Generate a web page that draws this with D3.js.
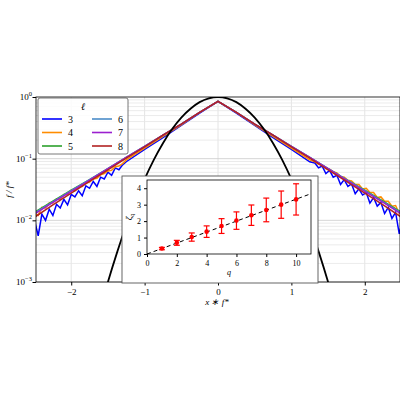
<!DOCTYPE html>
<html><head><meta charset="utf-8">
<script src="https://cdn.jsdelivr.net/npm/d3@7"></script>
<style>body{margin:0;background:#fff}text{font-family:"Liberation Serif",serif;fill:#000}</style>
</head><body><svg id="c" width="400" height="400"></svg>
<script>
// |x| grid for the exponential-like curves (mirrored to negative side)
var absX = [0,0.25,0.5,0.75,1,1.25,1.5,1.75,2,2.25,2.5];
var ells = [3,4,5,6,7,8];
var colors = ["#0000ff","#ff8c00","#2ca02c","#4c8cc8","#9b1fcf","#b22222"];
// log10(f/f*) per ell
var logF = {
  3: [-0.07,-0.26,-0.46,-0.66,-0.85,-1.05,-1.26,-1.50,-1.72,-1.95,-2.25],
  4: [-0.07,-0.25,-0.45,-0.64,-0.83,-1.02,-1.21,-1.42,-1.62,-1.82,-2.02],
  5: [-0.07,-0.25,-0.44,-0.62,-0.80,-0.98,-1.16,-1.34,-1.51,-1.69,-1.87],
  6: [-0.07,-0.25,-0.44,-0.62,-0.80,-0.98,-1.16,-1.34,-1.52,-1.70,-1.88],
  7: [-0.07,-0.25,-0.44,-0.62,-0.80,-0.98,-1.16,-1.35,-1.53,-1.71,-1.90],
  8: [-0.07,-0.25,-0.44,-0.62,-0.81,-0.99,-1.18,-1.37,-1.56,-1.75,-1.95]
};
// jagged samples for the noisy low-ell tails
var noiseX = [1.30,1.35,1.40,1.45,1.50,1.55,1.60,1.65,1.70,1.75,1.80,1.85,1.90,1.95,2.00,2.05,2.10,2.15,2.20,2.25,2.30,2.35,2.40,2.45,2.50];
var noise3 = [-1.10,-1.18,-1.15,-1.27,-1.22,-1.33,-1.30,-1.45,-1.37,-1.48,-1.44,-1.60,-1.52,-1.62,-1.58,-1.75,-1.66,-1.80,-1.74,-1.92,-1.82,-2.00,-1.90,-2.25,-2.00];
var noise4 = [-1.08,-1.12,-1.13,-1.19,-1.20,-1.24,-1.26,-1.32,-1.33,-1.38,-1.39,-1.45,-1.45,-1.52,-1.51,-1.58,-1.58,-1.66,-1.65,-1.72,-1.72,-1.80,-1.79,-1.92,-1.88];
// Gaussian reference
var gaussX = [0,0.125,0.25,0.375,0.5,0.625,0.75,0.875,1,1.125,1.25,1.375,1.5,1.625];
var gaussLog = [0,-0.021,-0.083,-0.19,-0.333,-0.52,-0.75,-1.02,-1.333,-1.69,-2.08,-2.52,-3.0,-3.52];
// inset: structure function exponents
var qs = [1,2,3,4,5,6,7,8,9,10];
var zeta = [0.33,0.68,1.03,1.36,1.70,2.03,2.36,2.68,3.00,3.32];
var zetaErr = [0.07,0.15,0.25,0.35,0.45,0.53,0.62,0.72,0.83,0.95];
var xTicks = [-2,-1,0,1,2];

var svg = d3.select("#c");
var L=36,R=400,T=97,B=282;
var x = d3.scaleLinear().domain([-2.48,2.48]).range([L,R]);
var y = d3.scaleLog().domain([1e-3,1]).range([B,T]);
svg.append("defs").append("clipPath").attr("id","cp").append("rect").attr("x",L).attr("y",T).attr("width",R-L).attr("height",B-T);
var g = svg.append("g");
// grid
xTicks.forEach(function(t){g.append("line").attr("x1",x(t)).attr("x2",x(t)).attr("y1",T).attr("y2",B).attr("stroke","#ddd").attr("stroke-width",0.8);});
[1e-3,1e-2,1e-1].forEach(function(d){for(var k=1;k<10;k++){var v=d*k;g.append("line").attr("x1",L).attr("x2",R).attr("y1",y(v)).attr("y2",y(v)).attr("stroke",k==1?"#ccc":"#e6e6e6").attr("stroke-width",0.8);}});

var line = d3.line().x(function(d){return x(d[0]);}).y(function(d){return y(Math.pow(10,d[1]));});
var plot = g.append("g").attr("clip-path","url(#cp)");
function sym(xs,ys){var pts=[];for(var i=xs.length-1;i>0;i--)pts.push([-xs[i],ys[i]]);for(i=0;i<xs.length;i++)pts.push([xs[i],ys[i]]);return pts;}
function tail(xs,ys){var pts=[];for(var i=xs.length-1;i>=0;i--)pts.push([-xs[i],ys[i]]);return pts;}
ells.forEach(function(l,i){
  var pts = sym(absX,logF[l]);
  if(l==3||l==4){
    var nz = l==3?noise3:noise4;
    var left = tail(noiseX,nz), right = noiseX.map(function(v,j){return [v+0.02,nz[j]+0.03];});
    pts = left.concat(pts.filter(function(p){return Math.abs(p[0])<1.3;})).concat(right);
  }
  plot.append("path").attr("d",line(pts)).attr("fill","none").attr("stroke",colors[i]).attr("stroke-width",1.5);
});
plot.append("path").attr("d",line.curve(d3.curveMonotoneX)(sym(gaussX,gaussLog))).attr("fill","none").attr("stroke","#000").attr("stroke-width",1.8);

// axes
g.append("rect").attr("x",L).attr("y",T).attr("width",R-L).attr("height",B-T).attr("fill","none").attr("stroke","#000").attr("stroke-width",0.8);
var xa = g.append("g").attr("transform","translate(0,"+B+")").call(d3.axisBottom(x).tickValues(xTicks).tickFormat(function(d){return d<0?"\u2212"+(-d):d;}).tickSize(3.5));
var ya = g.append("g").attr("transform","translate("+L+",0)").call(d3.axisLeft(y).tickValues([1e-3,1e-2,1e-1,1]).tickFormat("").tickSize(3.5));
[xa,ya].forEach(function(a){a.select(".domain").remove();a.selectAll("text").attr("font-size",9).attr("font-family","Liberation Serif").style("fill","#000");});
[[-3,1e-3],[-2,1e-2],[-1,1e-1],[0,1]].forEach(function(p){
  var t=g.append("text").attr("x",L-4).attr("y",y(p[1])+3).attr("text-anchor","end").attr("font-size",9).text("10");
  t.append("tspan").attr("dy",-4).attr("font-size",6.5).text(p[0]<0?"\u2212"+(-p[0]):p[0]);
});
g.append("text").attr("x",(L+R)/2-1).attr("y",305).attr("text-anchor","middle").attr("font-size",9).attr("font-style","italic").text("x \u2217 f*");
g.append("text").attr("transform","translate(12,"+((T+B)/2)+") rotate(-90)").attr("text-anchor","middle").attr("font-size",9).attr("font-style","italic").text("f / f*");

// legend
var lg = g.append("g");
lg.append("rect").attr("x",38).attr("y",98).attr("width",90).attr("height",56).attr("rx",2).attr("fill","#fff").attr("fill-opacity",0.85).attr("stroke","#555").attr("stroke-width",0.8);
lg.append("text").attr("x",83).attr("y",110).attr("text-anchor","middle").attr("font-size",10).attr("font-style","italic").text("\u2113");
ells.forEach(function(l,i){
  var cx = i<3?42:92, cy = 119+(i%3)*13.5;
  lg.append("line").attr("x1",cx).attr("x2",cx+20).attr("y1",cy).attr("y2",cy).attr("stroke",colors[i]).attr("stroke-width",1.6);
  lg.append("text").attr("x",cx+26).attr("y",cy+3.5).attr("font-size",10).text(l);
});

// inset
var ins = g.append("g");
ins.append("rect").attr("x",122).attr("y",176).attr("width",196).attr("height",107).attr("fill","#fff").attr("stroke","#555").attr("stroke-width",0.9);
var iL=147,iR=311,iT=180,iB=254;
var xi = d3.scaleLinear().domain([0,11]).range([iL,iR]);
var yi = d3.scaleLinear().domain([0,4.5]).range([iB,iT]);
ins.append("rect").attr("x",iL).attr("y",iT).attr("width",iR-iL).attr("height",iB-iT).attr("fill","none").attr("stroke","#000").attr("stroke-width",0.8);
var ax1 = ins.append("g").attr("transform","translate(0,"+iB+")").call(d3.axisBottom(xi).tickValues([0,2,4,6,8,10]).tickFormat(d3.format("d")).tickSize(3));
var ax2 = ins.append("g").attr("transform","translate("+iL+",0)").call(d3.axisLeft(yi).tickValues([0,1,2,3,4]).tickFormat(d3.format("d")).tickSize(3));
[ax1,ax2].forEach(function(a){a.select(".domain").remove();a.selectAll("text").attr("font-size",8).attr("font-family","Liberation Serif").style("fill","#000");a.selectAll("line").attr("stroke","#000");});
ins.append("path").attr("d",d3.line().x(function(d){return xi(d);}).y(function(d){return yi(d/3);})([0,11])).attr("stroke","#000").attr("stroke-dasharray","4,3").attr("stroke-width",1);
qs.forEach(function(q,i){
  var cx=xi(q);
  ins.append("line").attr("x1",cx).attr("x2",cx).attr("y1",yi(zeta[i]-zetaErr[i])).attr("y2",yi(zeta[i]+zetaErr[i])).attr("stroke","red").attr("stroke-width",1.2);
  [zeta[i]-zetaErr[i],zeta[i]+zetaErr[i]].forEach(function(v){ins.append("line").attr("x1",cx-3).attr("x2",cx+3).attr("y1",yi(v)).attr("y2",yi(v)).attr("stroke","red").attr("stroke-width",1.2);});
  ins.append("circle").attr("cx",cx).attr("cy",yi(zeta[i])).attr("r",2.3).attr("fill","red");
});
ins.append("text").attr("x",(iL+iR)/2).attr("y",275).attr("text-anchor","middle").attr("font-size",8).attr("font-style","italic").style("fill","#000").text("q");
var zl = ins.append("text").attr("transform","translate(132,"+((iT+iB)/2)+") rotate(-90)").attr("text-anchor","middle").attr("font-size",9).attr("font-style","italic").style("fill","#000").text("\u03B6");
zl.append("tspan").attr("font-size",6).attr("dy",2).text("q");
</script></body></html>
